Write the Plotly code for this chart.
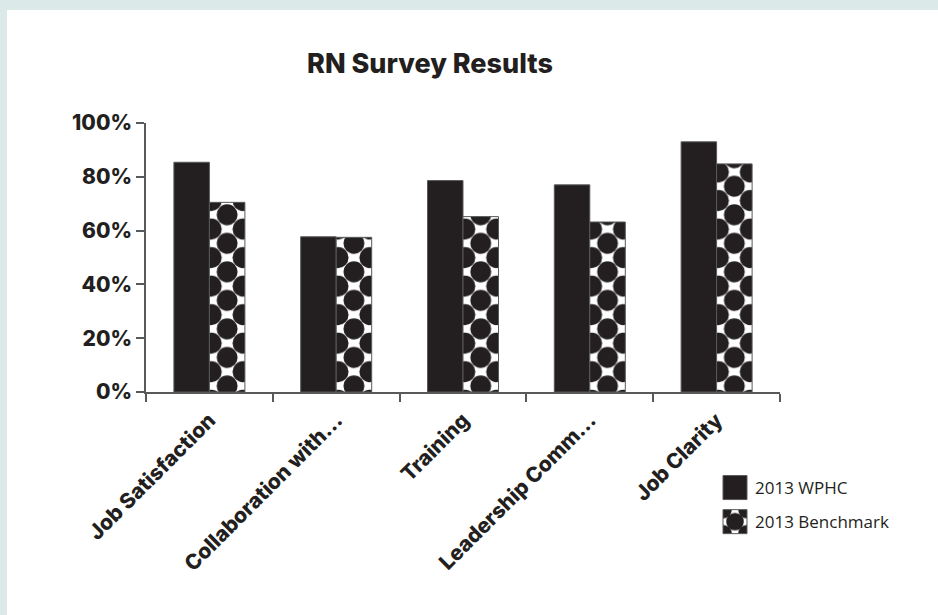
import plotly.graph_objects as go

# ---- data -------------------------------------------------------------
categories = ["Job Satisfaction", "Collaboration with…", "Training",
              "Leadership Comm…", "Job Clarity"]
wphc_2013 = [85.4, 57.7, 78.6, 77.0, 93.0]
benchmark_2013 = [70.5, 57.5, 65.2, 63.2, 84.8]
series_names = ["2013 WPHC", "2013 Benchmark"]
y_tick_values = [0, 20, 40, 60, 80, 100]
y_tick_labels = ["0%", "20%", "40%", "60%", "80%", "100%"]

# ---- styling ----------------------------------------------------------
INK = "#231f20"
EDGE = "#58595b"
BAND = "#dbe9e9"
W, H = 938, 615
L, R, T, B = 146, 158, 123, 223
PW, PH = W - L - R, H - T - B


def px_x(px):
    return (px - L) / PW


def px_y(py):
    return (H - B - py) / PH


fig = go.Figure()
fig.add_trace(go.Bar(
    x=categories, y=wphc_2013, name=series_names[0], legendgroup="wphc",
    marker=dict(color=INK, line=dict(color=EDGE, width=1)),
))
fig.add_trace(go.Bar(
    x=categories, y=benchmark_2013, name=series_names[1], legendgroup="bench",
    marker=dict(color="white", line=dict(color=EDGE, width=1),
                pattern=dict(shape=".", fgcolor=INK, bgcolor="white",
                             size=16, solidity=0.6)),
))

fig.update_layout(
    width=W, height=H,
    margin=dict(l=L, r=R, t=T, b=B, pad=0),
    paper_bgcolor=BAND, plot_bgcolor="white",
    barmode="group", bargap=0.44, bargroupgap=0,
    font=dict(family="Inter", color=INK),
    title=dict(text="RN Survey Results", xref="container", yref="container",
               x=430 / W, xanchor="center", y=1 - 64 / H, yanchor="middle",
               font=dict(family="Inter", size=27, weight=800, color=INK)),
    showlegend=True,
    legend=dict(x=px_x(715), y=px_y(470), xanchor="left", yanchor="top",
                xref="paper", yref="paper", tracegroupgap=9,
                bgcolor="rgba(0,0,0,0)",
                font=dict(family="Open Sans", size=17, color=INK)),
    shapes=[dict(type="rect", xref="paper", yref="paper", layer="below",
                 x0=px_x(7), x1=px_x(W + 2), y0=px_y(H + 2), y1=px_y(10),
                 fillcolor="white", line=dict(width=0))],
)

fig.update_xaxes(
    showline=True, linecolor=EDGE, linewidth=1.5,
    ticks="outside", tickson="boundaries", ticklen=8, tickwidth=1.5,
    tickcolor=EDGE, tickangle=-45, ticklabelstandoff=6,
    tickfont=dict(family="Inter", size=21, weight=800, color=INK),
    showgrid=False,
)
fig.update_yaxes(
    range=[0, 100], tickvals=y_tick_values, ticktext=y_tick_labels,
    showline=True, linecolor=EDGE, linewidth=1.5,
    ticks="outside", ticklen=8, tickwidth=1.5, tickcolor=EDGE,
    ticklabelstandoff=0,
    tickfont=dict(family="Inter", size=21, weight=800, color=INK),
    showgrid=False, zeroline=False,
)

# Staggered polka-dot tiles for the benchmark fill and larger legend swatches.
dot_script = """
var gd = document.getElementById('{plot_id}');
var NS = 'http://www.w3.org/2000/svg';
function dotTile(pat, w, h, r, tf) {
  while (pat.firstChild) { pat.removeChild(pat.firstChild); }
  pat.setAttribute('width', w);
  pat.setAttribute('height', h);
  pat.setAttribute('patternTransform', tf);
  var rect = document.createElementNS(NS, 'rect');
  rect.setAttribute('width', w); rect.setAttribute('height', h);
  rect.setAttribute('fill', '#ffffff');
  pat.appendChild(rect);
  [[0, 0], [w, 0], [0, h], [w, h], [w / 2, h / 2]].forEach(function (c) {
    var ci = document.createElementNS(NS, 'circle');
    ci.setAttribute('cx', c[0]); ci.setAttribute('cy', c[1]);
    ci.setAttribute('r', r); ci.setAttribute('fill', '#231f20');
    pat.appendChild(ci);
  });
}
function refId(el) {
  var f = el.style.fill || el.getAttribute('fill') || '';
  var m = f.match(/#([^"')]+)/);
  return m ? m[1] : null;
}
var legendIds = {};
gd.querySelectorAll('.legend .legendpoints path').forEach(function (p) {
  var id = refId(p);
  if (id) { legendIds[id] = true; }
  p.setAttribute('transform', (p.getAttribute('transform') || '') + ' scale(2)');
  p.style.strokeWidth = '0.5px';
});
var traces = gd.querySelectorAll('.barlayer .trace');
var bench = traces[traces.length - 1].querySelectorAll('.point path');
var b0 = bench[0].getBBox(), b1 = bench[1].getBBox();
var w = (b1.x - b0.x) / 4;
var h = w * 0.9;
var tf = 'translate(' + (b0.x + b0.width / 2) + ',' + (b0.y + b0.height - 6) + ')';
gd.querySelectorAll('defs pattern').forEach(function (p) {
  if (legendIds[p.id] || p.id.indexOf('legend') >= 0) {
    dotTile(p, 12, 12, 4.4, '');
  } else {
    dotTile(p, w, h, w * 0.33, tf);
  }
});
"""

fig.write_html("out.html", post_script=dot_script)
